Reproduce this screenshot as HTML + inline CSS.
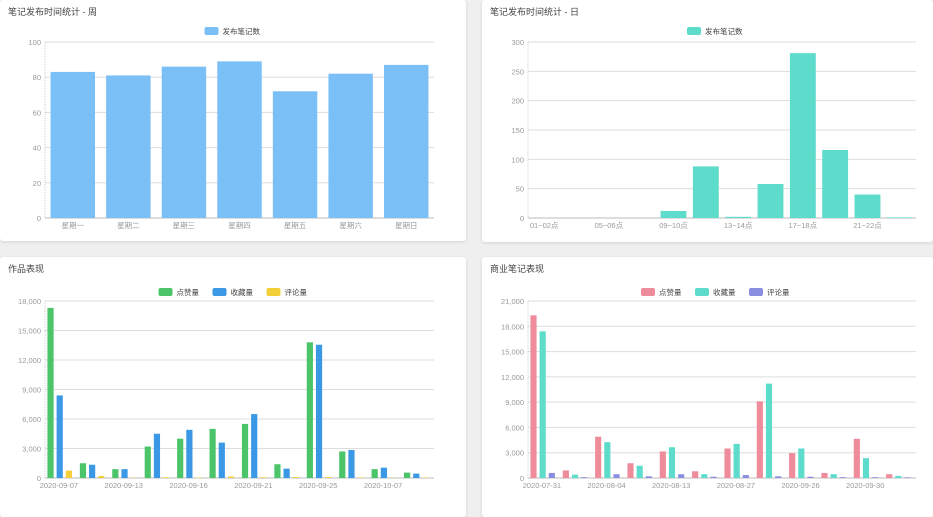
<!DOCTYPE html>
<html><head><meta charset="utf-8">
<style>
body{margin:0;width:933px;height:500px;overflow:hidden;background:#efefef;font-family:"Liberation Sans","Noto Sans CJK SC",sans-serif;}
.card{position:absolute;background:#fff;border-radius:3px;box-shadow:0 1px 3px rgba(0,0,0,.12);}
.t{position:absolute;left:8px;top:5px;font-size:9px;color:#444;}
svg{position:absolute;left:0;top:0;}
text{font-family:"Liberation Sans","Noto Sans CJK SC",sans-serif;}
</style></head><body>
<div class="card" style="left:0;top:0;width:466px;height:241px"><div class="t">笔记发布时间统计 - 周</div><svg id="c1" width="466" height="241"></svg></div>
<div class="card" style="left:482px;top:0;width:451px;height:242px"><div class="t">笔记发布时间统计 - 日</div><svg id="c2" width="451" height="242"></svg></div>
<div class="card" style="left:0;top:257px;width:466px;height:260px"><div class="t">作品表现</div><svg id="c3" width="466" height="260"></svg></div>
<div class="card" style="left:482px;top:257px;width:451px;height:260px"><div class="t">商业笔记表现</div><svg id="c4" width="451" height="260"></svg></div>
<script>
const weekCats=["星期一","星期二","星期三","星期四","星期五","星期六","星期日"];
const weekVals=[83,81,86,89,72,82,87];
const weekTicks=[0,20,40,60,80,100];
const dayCats=["01~02点","03~04点","05~06点","07~08点","09~10点","11~12点","13~14点","15~16点","17~18点","19~20点","21~22点","23~24点"];
const dayVals=[0,0,0,0,12,88,2,58,281,116,40,1];
const dayTicks=[0,50,100,150,200,250,300];
const workCats=["2020-09-07","2020-09-10","2020-09-13","2020-09-14","2020-09-16","2020-09-18","2020-09-21","2020-09-23","2020-09-25","2020-09-30","2020-10-07","2020-10-10"];
const workLikes=[17300,1500,900,3200,4000,5000,5500,1400,13800,2700,900,550];
const workFavs=[8400,1350,900,4500,4900,3600,6500,950,13550,2850,1050,450];
const workComments=[750,200,30,80,50,150,80,100,100,50,20,50];
const workTicks=[0,3000,6000,9000,12000,15000,18000];
const bizCats=["2020-07-31","2020-08-02","2020-08-04","2020-08-09","2020-08-13","2020-08-20","2020-08-27","2020-09-01","2020-09-26","2020-09-28","2020-09-30","2020-10-02"];
const bizLikes=[19300,900,4900,1750,3150,800,3500,9100,2950,600,4650,450];
const bizFavs=[17400,400,4250,1450,3650,450,4050,11200,3500,450,2350,250];
const bizComments=[600,100,450,200,450,150,350,200,150,100,100,80];
const bizTicks=[0,3000,6000,9000,12000,15000,18000,21000];
const NS="http://www.w3.org/2000/svg";
function mk(p,tag,a){const e=document.createElementNS(NS,tag);for(const k in a)e.setAttribute(k,a[k]);p.appendChild(e);return e;}
function fmt(v){return v.toLocaleString("en-US");}
function chart(id,cats,series,ticks,opt){
  const svg=document.getElementById(id);
  const L=opt.L,R=opt.R,T=opt.T,B=opt.B,max=ticks[ticks.length-1];
  const y=v=>B-(v/max)*(B-T);
  const band=(R-L)/cats.length;
  ticks.forEach(t=>{
    const g=mk(svg,"line",{x1:L,x2:R,y1:y(t),y2:y(t),stroke:t===0?"#bbb":"#ddd","stroke-width":1});
    
    
    const tx=mk(svg,"text",{x:L-4,y:y(t)+3,"text-anchor":"end","font-size":7.5,fill:"#999"});
    tx.textContent=fmt(t);
    
    
  });
  const ax=mk(svg,"line",{x1:L,x2:L,y1:T,y2:B,stroke:"#ccc","stroke-dasharray":"1,1"});
  
  
  const n=series.length,gw=band*opt.fill,bw=gw/n-(n>1?3:0);
  cats.forEach((c,i)=>{
    const x0=L+i*band+(band-gw)/2;
    series.forEach((s,j)=>{
      const v=s.vals[i];const bx=x0+j*(gw/n);
      const r=mk(svg,"rect",{x:bx,y:y(v),width:bw,height:B-y(v),fill:s.color});
      
      
    });
    if(i%opt.every===0){
      const tx=mk(svg,"text",{x:L+i*band+(opt.every>1?gw/ (n>1?2.4:2)+ (band-gw)/2:band/2),y:B+10,"text-anchor":"middle","font-size":7.5,fill:"#999"});
      tx.textContent=c;
      
      
    }
  });
  // legend
  let total=0;series.forEach(s=>total+=22+s.name.length*8+8);
  let lx=(L+R)/2-total/2;
  series.forEach(s=>{
    const r=mk(svg,"rect",{x:lx,y:opt.LY,width:14,height:8,rx:2,fill:s.color});
    
    
    const tx=mk(svg,"text",{x:lx+18,y:opt.LY+7,"font-size":7.5,fill:"#444"});
    tx.textContent=s.name;
    
    
    lx+=22+s.name.length*8+8;
  });
}
chart("c1",weekCats,[{key:"notes",name:"发布笔记数",color:"#7bbff7",vals:weekVals}],weekTicks,{L:45,R:434,T:42,B:218,fill:0.8,every:1,LY:27});
chart("c2",dayCats,[{key:"notes",name:"发布笔记数",color:"#5ddccc",vals:dayVals}],dayTicks,{L:46,R:434,T:42,B:218,fill:0.8,every:2,LY:27});
chart("c3",workCats,[{key:"likes",name:"点赞量",color:"#4cc46a",vals:workLikes},{key:"favs",name:"收藏量",color:"#3a98e4",vals:workFavs},{key:"comments",name:"评论量",color:"#f3d03a",vals:workComments}],workTicks,{L:45,R:434,T:44,B:221,fill:0.85,every:2,LY:31});
chart("c4",bizCats,[{key:"likes",name:"点赞量",color:"#ef8c9b",vals:bizLikes},{key:"favs",name:"收藏量",color:"#5ddccc",vals:bizFavs},{key:"comments",name:"评论量",color:"#8a8ee0",vals:bizComments}],bizTicks,{L:46,R:434,T:44,B:221,fill:0.85,every:2,LY:31});
</script>
</body></html>
